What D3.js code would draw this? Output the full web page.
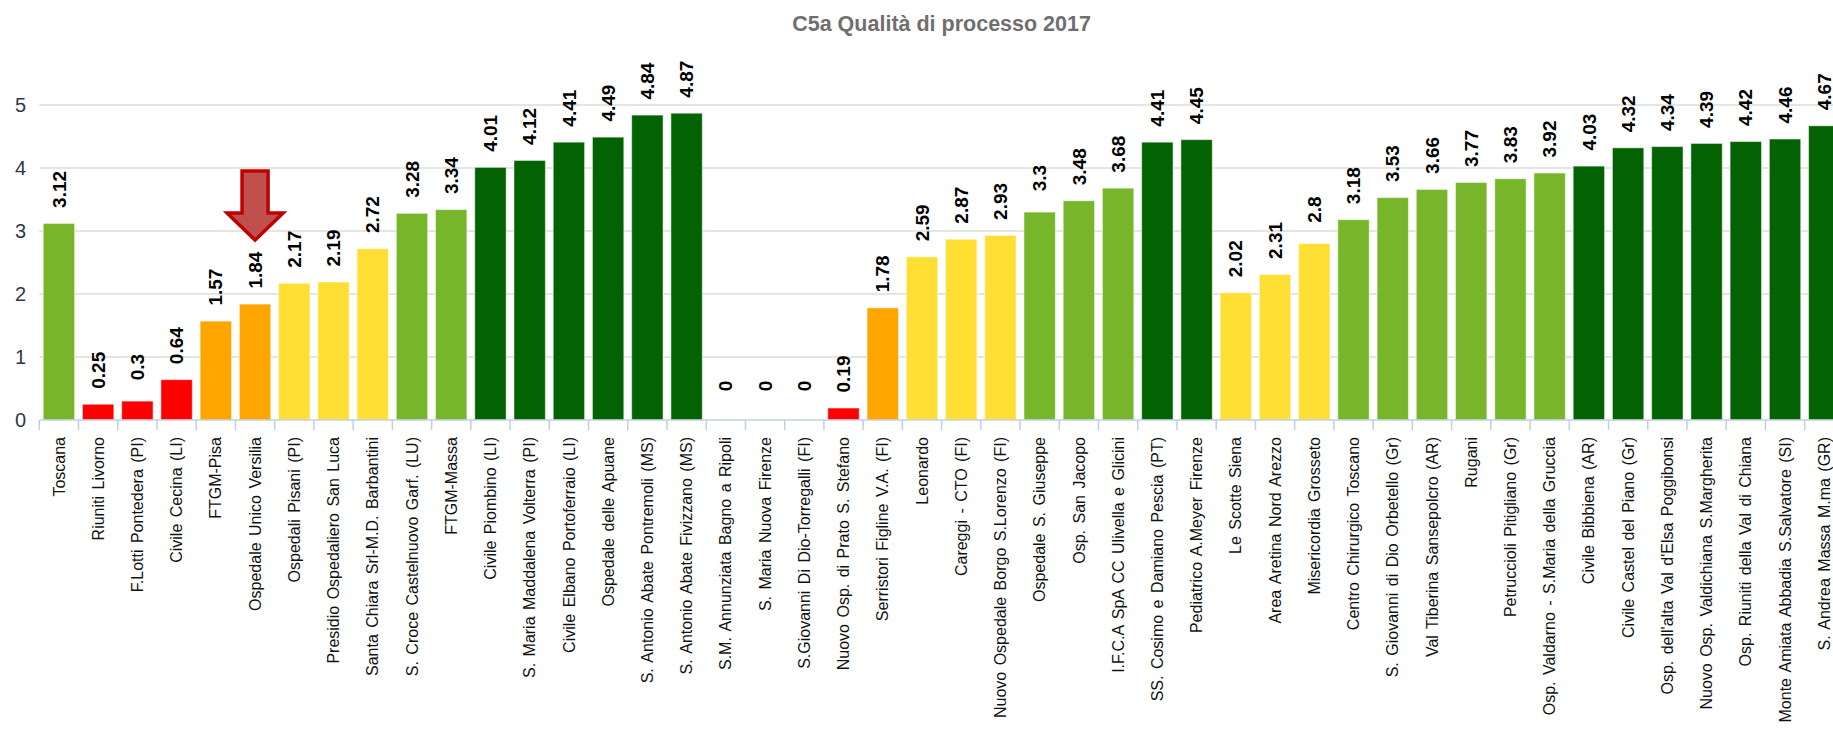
<!DOCTYPE html>
<html>
<head>
<meta charset="utf-8">
<script src="https://cdn.jsdelivr.net/npm/d3@7"></script>
<style>
  html, body { margin: 0; padding: 0; background: #fff; }
  svg { display: block; font-family: "Liberation Sans", Arial, sans-serif; }
</style>
</head>
<body>
<svg id="chart" width="1833" height="732"></svg>
<script>
const title = "C5a Qualità di processo 2017";

const categories = [
  "Toscana",
  "Riuniti Livorno",
  "F.Lotti Pontedera (PI)",
  "Civile Cecina (LI)",
  "FTGM-Pisa",
  "Ospedale Unico Versilia",
  "Ospedali Pisani (PI)",
  "Presidio Ospedaliero San Luca",
  "Santa Chiara Srl-M.D. Barbantini",
  "S. Croce Castelnuovo Garf. (LU)",
  "FTGM-Massa",
  "Civile Piombino (LI)",
  "S. Maria Maddalena Volterra (PI)",
  "Civile Elbano Portoferraio (LI)",
  "Ospedale delle Apuane",
  "S. Antonio Abate Pontremoli (MS)",
  "S. Antonio Abate Fivizzano (MS)",
  "S.M. Annunziata Bagno a Ripoli",
  "S. Maria Nuova Firenze",
  "S.Giovanni Di Dio-Torregalli (FI)",
  "Nuovo Osp. di Prato S. Stefano",
  "Serristori Figline V.A. (FI)",
  "Leonardo",
  "Careggi - CTO (FI)",
  "Nuovo Ospedale Borgo S.Lorenzo (FI)",
  "Ospedale S. Giuseppe",
  "Osp. San Jacopo",
  "I.F.C.A SpA CC Ulivella e Glicini",
  "SS. Cosimo e Damiano Pescia (PT)",
  "Pediatrico A.Meyer Firenze",
  "Le Scotte Siena",
  "Area Aretina Nord Arezzo",
  "Misericordia Grosseto",
  "Centro Chirurgico Toscano",
  "S. Giovanni di Dio Orbetello (Gr)",
  "Val Tiberina Sansepolcro (AR)",
  "Rugani",
  "Petruccioli Pitigliano (Gr)",
  "Osp. Valdarno - S.Maria della Gruccia",
  "Civile Bibbiena (AR)",
  "Civile Castel del Piano (Gr)",
  "Osp. dell'alta Val d'Elsa Poggibonsi",
  "Nuovo Osp. Valdichiana S.Margherita",
  "Osp. Riuniti della Val di Chiana",
  "Monte Amiata Abbadia S.Salvatore (SI)",
  "S. Andrea Massa M.ma (GR)"
];

const values = [
  3.12, 0.25, 0.3, 0.64, 1.57, 1.84, 2.17, 2.19, 2.72, 3.28,
  3.34, 4.01, 4.12, 4.41, 4.49, 4.84, 4.87, 0, 0, 0,
  0.19, 1.78, 2.59, 2.87, 2.93, 3.3, 3.48, 3.68, 4.41, 4.45,
  2.02, 2.31, 2.8, 3.18, 3.53, 3.66, 3.77, 3.83, 3.92, 4.03,
  4.32, 4.34, 4.39, 4.42, 4.46, 4.67
];

const yTicks = [0, 1, 2, 3, 4, 5];
const bandThresholds = [1, 2, 3, 4];
const bandColors = ["#ff0000", "#ffa500", "#ffdf33", "#77b62a", "#036303"];
const highlighted = "Ospedale Unico Versilia";

const data = categories.map((c, i) => ({ name: c, value: values[i] }));

const svg = d3.select("#chart");
const W = 1833;
const x0 = 39.3, step = 39.23;

const x = d3.scaleBand()
  .domain(categories)
  .range([x0, x0 + categories.length * step])
  .paddingInner(0.2)
  .paddingOuter(0.1);

const y = d3.scaleLinear().domain([0, 5]).range([420, 105]);
const color = d3.scaleThreshold().domain(bandThresholds).range(bandColors);

// title
svg.append("text")
  .attr("x", (x.range()[0] + x.range()[1]) / 2)
  .attr("y", 31)
  .attr("text-anchor", "middle")
  .attr("font-size", 21.5)
  .attr("font-weight", "bold")
  .attr("fill", "#6f6f6f")
  .text(title);

// gridlines
svg.append("g").selectAll("line")
  .data(yTicks.filter(t => t > 0))
  .join("line")
  .attr("x1", x0).attr("x2", W)
  .attr("y1", d => y(d)).attr("y2", d => y(d))
  .attr("stroke", "#dcdcdc")
  .attr("stroke-width", 1.6);

// y labels
svg.append("g").selectAll("text")
  .data(yTicks)
  .join("text")
  .attr("x", 26)
  .attr("y", d => y(d))
  .attr("dy", "0.36em")
  .attr("text-anchor", "end")
  .attr("font-size", 20)
  .attr("fill", "#33364a")
  .text(d => d);

// bars
svg.append("g").selectAll("rect")
  .data(data.filter(d => d.value > 0))
  .join("rect")
  .attr("x", d => x(d.name))
  .attr("width", x.bandwidth())
  .attr("y", d => y(d.value))
  .attr("height", d => y(0) - y(d.value))
  .attr("fill", d => color(d.value))
  .attr("stroke", "#ffffff")
  .attr("stroke-opacity", 0.5)
  .attr("stroke-width", 1);

// x axis line & ticks
svg.append("line")
  .attr("x1", x0).attr("x2", W)
  .attr("y1", y(0)).attr("y2", y(0))
  .attr("stroke", "#c0d0e0").attr("stroke-width", 1.5);

svg.append("g").selectAll("line")
  .data(d3.range(categories.length + 1))
  .join("line")
  .attr("x1", i => x0 + i * x.step())
  .attr("x2", i => x0 + i * x.step())
  .attr("y1", y(0)).attr("y2", y(0) + 10)
  .attr("stroke", "#c0d0e0").attr("stroke-width", 1.5);

// category labels
svg.append("g").selectAll("text")
  .data(categories)
  .join("text")
  .attr("transform", d => `translate(${x(d) + x.bandwidth() / 2},437) rotate(-90)`)
  .attr("dy", "0.35em")
  .attr("text-anchor", "end")
  .attr("font-size", 16)
  .attr("word-spacing", 2)
  .attr("fill", "#111")
  .text(d => d);

// value labels
svg.append("g").selectAll("text")
  .data(data)
  .join("text")
  .attr("transform", d => `translate(${x(d.name) + x.bandwidth() / 2},${y(d.value) - 34}) rotate(-90)`)
  .attr("dy", "0.35em")
  .attr("text-anchor", "middle")
  .attr("font-size", 19)
  .attr("font-weight", "bold")
  .attr("fill", "#000")
  .text(d => d.value);

// highlight arrow
const hd = data.find(d => d.name === highlighted);
const cx = x(hd.name) + x.bandwidth() / 2;
const tipY = y(hd.value) - 64;
const arrow = [
  [cx - 13, tipY - 69], [cx + 13, tipY - 69], [cx + 13, tipY - 27],
  [cx + 28, tipY - 27], [cx, tipY], [cx - 28, tipY - 27], [cx - 13, tipY - 27]
];
svg.append("path")
  .attr("d", d3.line()(arrow) + "Z")
  .attr("fill", "#c0504d")
  .attr("stroke", "#c00000")
  .attr("stroke-width", 3.5)
  .attr("stroke-linejoin", "miter");
</script>
</body>
</html>
